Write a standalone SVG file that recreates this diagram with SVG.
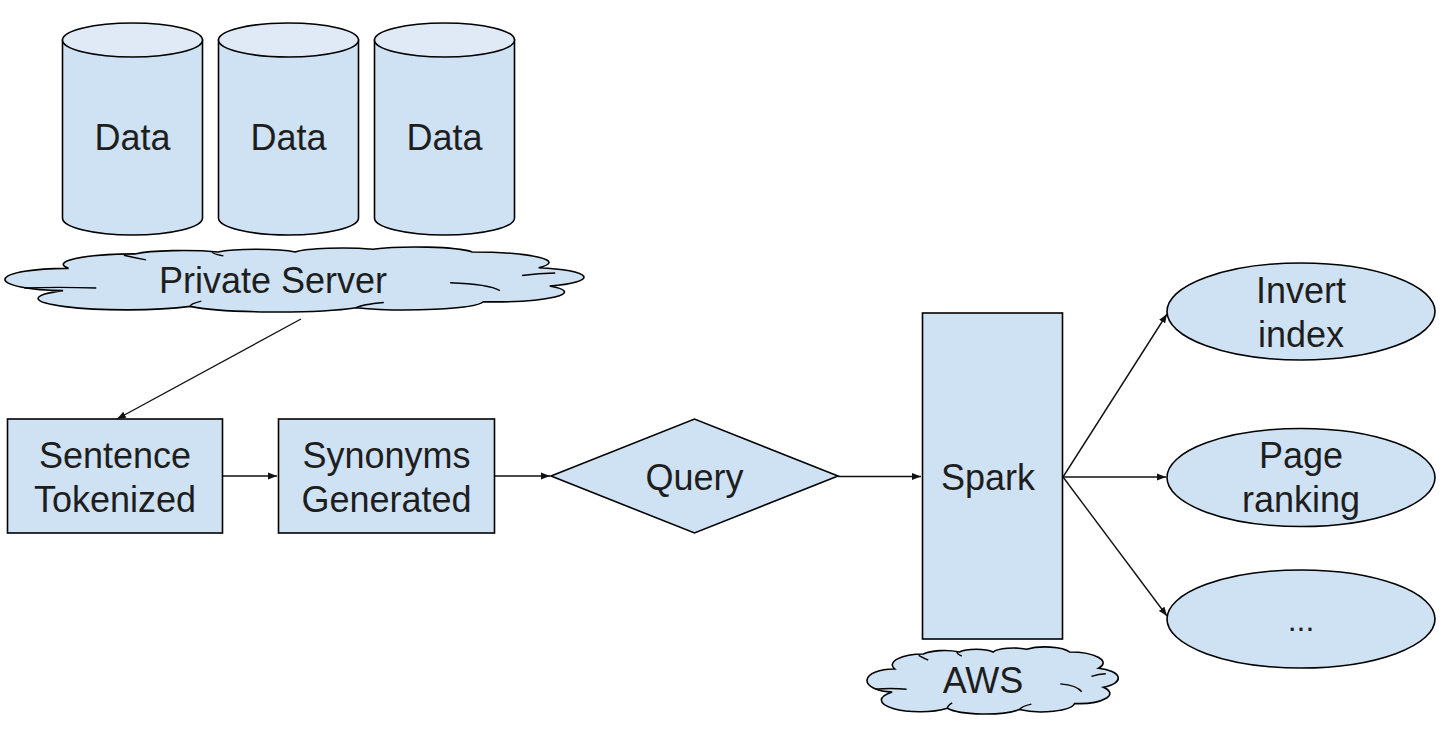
<svg xmlns="http://www.w3.org/2000/svg" xmlns:xlink="http://www.w3.org/1999/xlink" width="1454" height="742" viewBox="0 0 1454 742">
<style>
.shape{fill:#cfe2f3;stroke:#000;stroke-width:1.6}
.top{fill:#dfeaf6;stroke:#000;stroke-width:1.6}
.inner{fill:none;stroke:#000;stroke-width:1.4}
.lbl{font-family:"Liberation Sans",Arial,sans-serif;font-size:36px;fill:#1e1e1e;text-anchor:middle}
.conn{fill:none;stroke:#111;stroke-width:1.4}
</style>
<defs>
<marker id="arr" markerUnits="userSpaceOnUse" markerWidth="10" markerHeight="8" refX="9" refY="4" orient="auto">
<path d="M0,0.5 L9,4 L0,7.5 Z" fill="#111"/>
</marker>
<path id="cloud" vector-effect="non-scaling-stroke" d="M 9,33 A 13,16 0 0 1 21,11 A 10,10 0 0 1 36,8 A 8,8 0 0 1 50,8 A 9,9 0 0 1 64,4 A 11,12 0 0 1 82,8 A 14,16 0 0 1 94,32 A 11,15 0 0 1 96,60 A 13,15 0 0 1 84,84 A 14,14 0 0 1 61,93 A 17,14 0 0 1 31,91 A 13,14 0 0 1 8,67 A 11,17 0 0 1 9,33 Z"/>
<path id="cloudin" vector-effect="non-scaling-stroke" d="M 1,63 Q 7,61 14,63 M 19,13 Q 21,17 23,20 M 35,8 Q 35,11 37,14 M 97,40 Q 94,40 91,44 M 78,55 Q 85,57 87,67 M 61,93 Q 62,88 66,85 M 31,91 Q 31,87 33,83"/>
</defs>

<g id="data1">
<path class="shape" d="M62.5,40 L62.5,218 A70,17 0 0 0 202.5,218 L202.5,40 Z"/>
<ellipse class="top" cx="132.5" cy="40" rx="70" ry="17"/>
<text class="lbl" x="132.5" y="150">Data</text>
</g>
<g id="data2">
<path class="shape" d="M218.5,40 L218.5,218 A70,17 0 0 0 358.5,218 L358.5,40 Z"/>
<ellipse class="top" cx="288.5" cy="40" rx="70" ry="17"/>
<text class="lbl" x="288.5" y="150">Data</text>
</g>
<g id="data3">
<path class="shape" d="M374.5,40 L374.5,218 A70,17 0 0 0 514.5,218 L514.5,40 Z"/>
<ellipse class="top" cx="444.5" cy="40" rx="70" ry="17"/>
<text class="lbl" x="444.5" y="150">Data</text>
</g>

<g id="private-server">
<use href="#cloud" class="shape" transform="translate(18.8,246.7) scale(5.53,0.656)"/>
<use href="#cloudin" class="inner" transform="translate(18.8,246.7) scale(5.53,0.656)"/>
<text class="lbl" x="273" y="293">Private Server</text>
</g>

<g id="sentence-tokenized">
<rect class="shape" x="7.5" y="419" width="215" height="114"/>
<text class="lbl" x="115" y="468">Sentence</text>
<text class="lbl" x="115" y="512">Tokenized</text>
</g>

<g id="synonyms-generated">
<rect class="shape" x="278.5" y="419" width="216" height="114"/>
<text class="lbl" x="386.5" y="468">Synonyms</text>
<text class="lbl" x="386.5" y="512">Generated</text>
</g>

<g id="query">
<polygon class="shape" points="551,476 694.5,419 838,476 694.5,533"/>
<text class="lbl" x="694.5" y="490">Query</text>
</g>

<g id="spark">
<rect class="shape" x="922.5" y="313" width="140" height="326"/>
<text class="lbl" x="988" y="490">Spark</text>
</g>

<g id="aws">
<use href="#cloud" class="shape" transform="translate(873,646.6) scale(2.40,0.677)"/>
<use href="#cloudin" class="inner" transform="translate(873,646.6) scale(2.40,0.677)"/>
<text class="lbl" x="983" y="693">AWS</text>
</g>

<g id="invert-index">
<ellipse class="shape" cx="1301" cy="311.5" rx="134" ry="48.5"/>
<text class="lbl" x="1301" y="303">Invert</text>
<text class="lbl" x="1301" y="347">index</text>
</g>

<g id="page-ranking">
<ellipse class="shape" cx="1301" cy="477.5" rx="134" ry="49"/>
<text class="lbl" x="1301" y="468">Page</text>
<text class="lbl" x="1301" y="512">ranking</text>
</g>

<g id="more">
<ellipse class="shape" cx="1301" cy="619" rx="134" ry="49"/>
<text class="lbl" x="1301" y="631" style="font-size:32px">...</text>
</g>

<g id="connectors">
<line class="conn" x1="301" y1="319" x2="117" y2="419" marker-end="url(#arr)"/>
<line class="conn" x1="223" y1="476" x2="277" y2="476" marker-end="url(#arr)"/>
<line class="conn" x1="495" y1="476" x2="550" y2="476" marker-end="url(#arr)"/>
<line class="conn" x1="838" y1="476.5" x2="921" y2="476.5" marker-end="url(#arr)"/>
<line class="conn" x1="1063" y1="477" x2="1167" y2="314" marker-end="url(#arr)"/>
<line class="conn" x1="1063" y1="477" x2="1166" y2="477" marker-end="url(#arr)"/>
<line class="conn" x1="1063" y1="477" x2="1167" y2="616" marker-end="url(#arr)"/>
</g>
</svg>
